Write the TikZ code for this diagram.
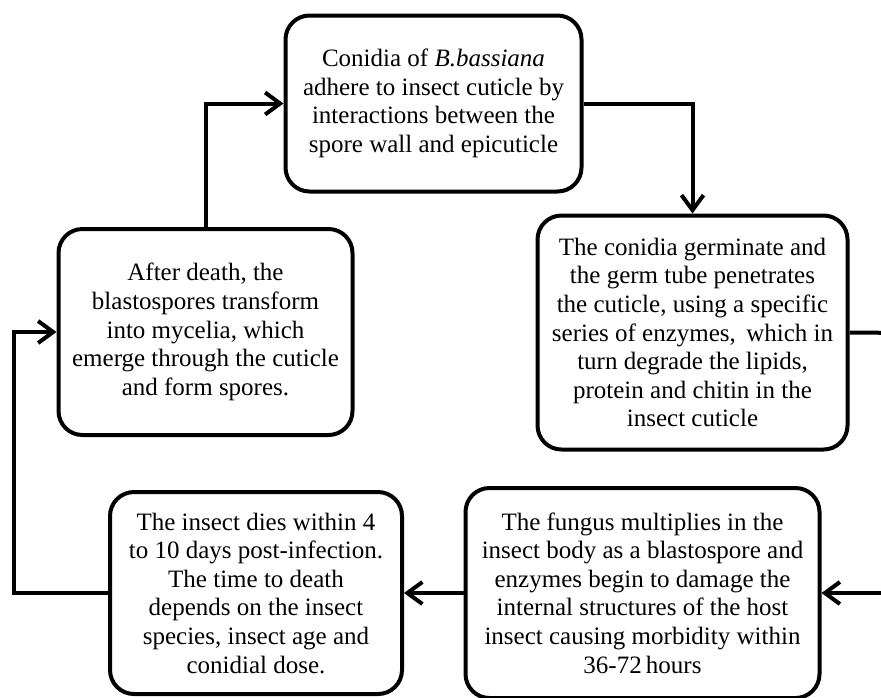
\documentclass[tikz,border=0pt]{standalone}
\usepackage{fontspec}
\setmainfont{Liberation Serif}
\usetikzlibrary{arrows.meta, positioning, calc}
\tikzstyle{block} = [rectangle, draw, line width=2pt, fill=white,
    align=center, rounded corners=12pt, inner sep=0pt,
    font=\fontsize{12.5}{14.3}\selectfont]
\tikzstyle{arrow} = [line width=2pt, -{Straight Barb[length=7.5pt, width=11pt, line width=2pt]}]
\tikzstyle{line} = [line width=2pt]

\begin{document}
\begin{tikzpicture}[x=0.5pt, y=-0.5pt]
    \useasboundingbox (0,0) rectangle (881,697);
    % Define blocks
    \node [block, minimum width=148pt, minimum height=88pt] (conidia) at (433.5,103.5)
        {Conidia of \textit{B.bassiana}\\adhere to insect cuticle by\\interactions between the\\spore wall and epicuticle};
    \node [block, minimum width=155pt, minimum height=117pt] (germ) at (692.5,332.5)
        {The conidia germinate and\\the germ tube penetrates\\the cuticle, using a specific\\series of enzymes,\, which in\\turn degrade the lipids,\\protein and chitin in the\\insect cuticle};
    \node [block, minimum width=177pt, minimum height=105pt] (fungus) at (642.5,593)
        {The fungus multiplies in the\\insect body as a blastospore and\\enzymes begin to damage the\\internal structures of the host\\insect causing morbidity within\\36-72\,hours};
    \node [block, minimum width=146pt, minimum height=101pt] (dies) at (256,593)
        {The insect dies within 4\\to 10 days post-infection.\\The time to death\\depends on the insect\\species, insect age and\\conidial dose.};
    \node [block, minimum width=147pt, minimum height=103pt] (death) at (205.5,332)
        {After death, the\\blastospores transform\\into mycelia, which\\emerge through the cuticle\\and form spores.};

    % Turning points (the right one lies beyond the page edge)
    \coordinate (east) at (910,333);
    \coordinate (west) at (14,593);

    % Arrows for the cycle
    \draw [arrow] (conidia.east) -| (germ.north);
    \draw [line] (germ.east) -- (east);
    \draw [arrow] (east) |- (fungus.east);
    \draw [arrow] (fungus.west) -- (dies.east);
    \draw [arrow] (dies.west) -- (west) |- (death.west);
    \draw [arrow] (death.north) |- (conidia.west);
\end{tikzpicture}
\end{document}
